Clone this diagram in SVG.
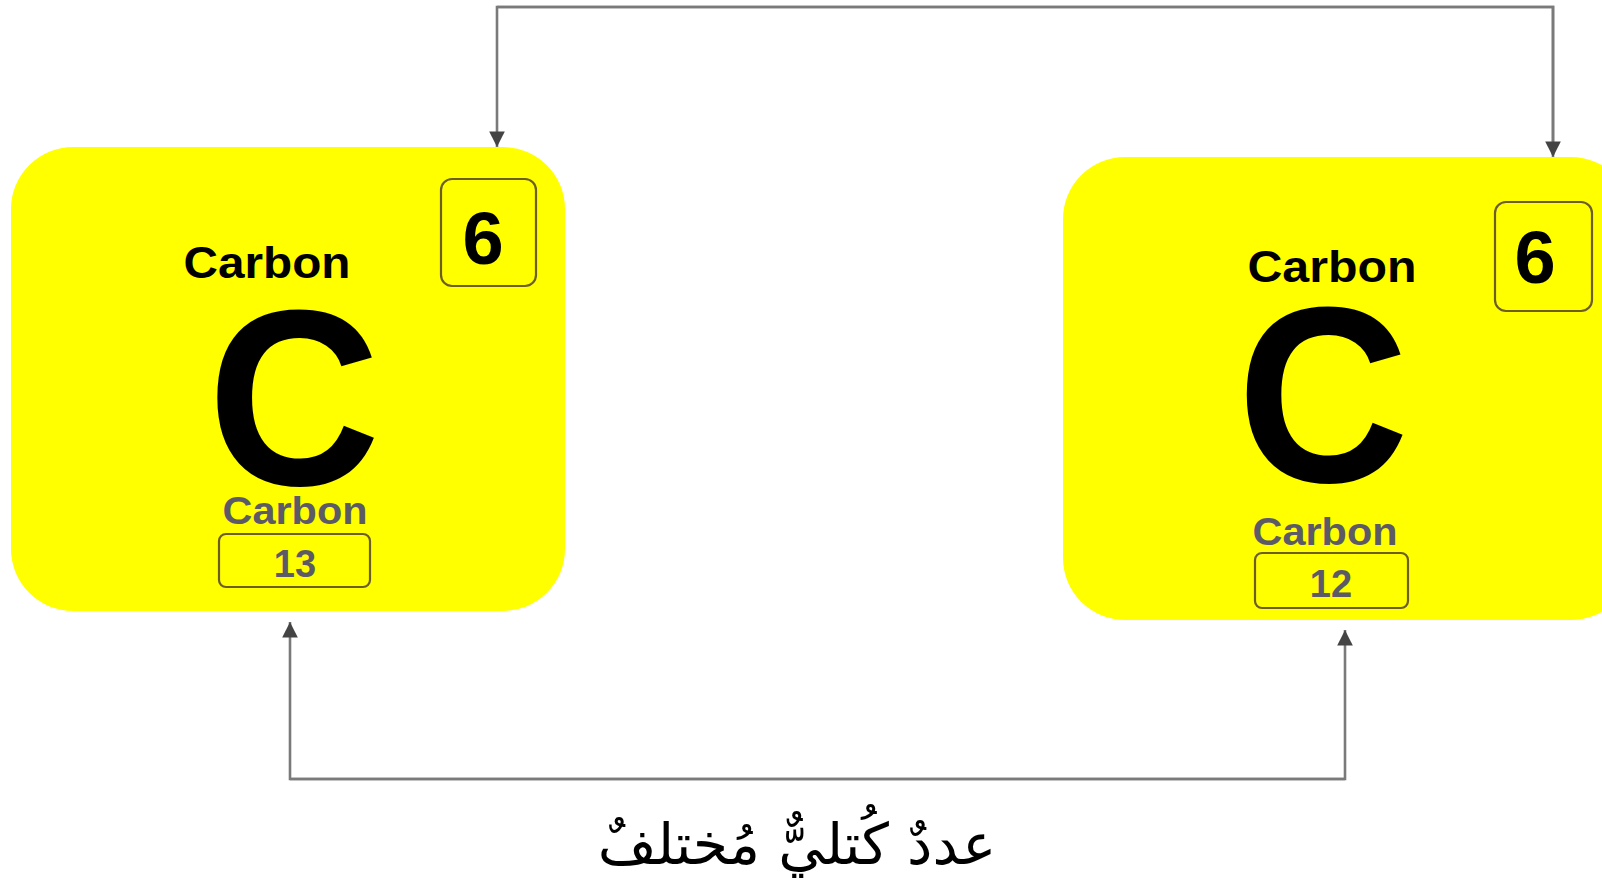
<svg xmlns="http://www.w3.org/2000/svg" width="1602" height="893" viewBox="0 0 1602 893">
<defs>
<style>
.card{fill:#ffff00;}
.box{fill:none;stroke:#6b5e2a;stroke-width:2.2;}
.name{font-family:"Liberation Sans",Arial,sans-serif;font-weight:bold;fill:#000;text-anchor:middle;}
.gray{font-family:"Liberation Sans",Arial,sans-serif;font-weight:bold;fill:#5c5a66;text-anchor:middle;}
.big{font-family:"Liberation Sans",Arial,sans-serif;font-weight:bold;fill:#000;text-anchor:middle;}
.conn{fill:none;stroke:#7a7a7a;stroke-width:2.6;}
.ar{font-family:"DejaVu Sans","Noto Sans",sans-serif;fill:#000;text-anchor:middle;}
</style>
<marker id="ah" viewBox="0 0 10 10" refX="10" refY="5" markerWidth="7" markerHeight="6" markerUnits="strokeWidth" orient="auto">
<path d="M0,0 L10,5 L0,10 z" fill="#444"/>
</marker>
</defs>
<rect width="1602" height="893" fill="#fff"/>
<g id="connectors">
<path class="conn" d="M1553,155 L1553,7 L497,7 L497,147" marker-end="url(#ah)"/>
<path class="conn" d="M497,7 L1553,7 L1553,157" marker-end="url(#ah)"/>
<path class="conn" d="M1345,779 L290,779 L290,622" marker-end="url(#ah)"/>
<path class="conn" d="M290,779 L1345,779 L1345,630" marker-end="url(#ah)"/>
</g>
<g id="card-c13">
<rect class="card" x="11" y="147" width="554" height="464" rx="62"/>
<rect class="box" x="441" y="179" width="95" height="107" rx="11"/>
<text class="name" x="483" y="264" font-size="74">6</text>
<text class="name" x="267" y="278" font-size="44" textLength="167" lengthAdjust="spacingAndGlyphs">Carbon</text>
<text class="big" x="294" y="485" font-size="250" textLength="173" lengthAdjust="spacingAndGlyphs">C</text>
<text class="gray" x="295" y="524" font-size="38" textLength="145" lengthAdjust="spacingAndGlyphs">Carbon</text>
<rect class="box" x="219" y="534" width="151" height="53" rx="7"/>
<text class="gray" x="295" y="577" font-size="38">13</text>
</g>
<g id="card-c12">
<rect class="card" x="1063" y="157" width="570" height="463" rx="62"/>
<rect class="box" x="1495" y="202" width="97" height="109" rx="11"/>
<text class="name" x="1535" y="283" font-size="74">6</text>
<text class="name" x="1332" y="282" font-size="44" textLength="169" lengthAdjust="spacingAndGlyphs">Carbon</text>
<text class="big" x="1323" y="482" font-size="250" textLength="172" lengthAdjust="spacingAndGlyphs">C</text>
<text class="gray" x="1325" y="545" font-size="38" textLength="145" lengthAdjust="spacingAndGlyphs">Carbon</text>
<rect class="box" x="1255" y="553" width="153" height="55" rx="7"/>
<text class="gray" x="1331" y="597" font-size="38">12</text>
</g>
<g id="label">
<text class="ar" x="797" y="864" font-size="57" direction="rtl">عددٌ كُتليٌّ مُختلفٌ</text>
</g>
</svg>
